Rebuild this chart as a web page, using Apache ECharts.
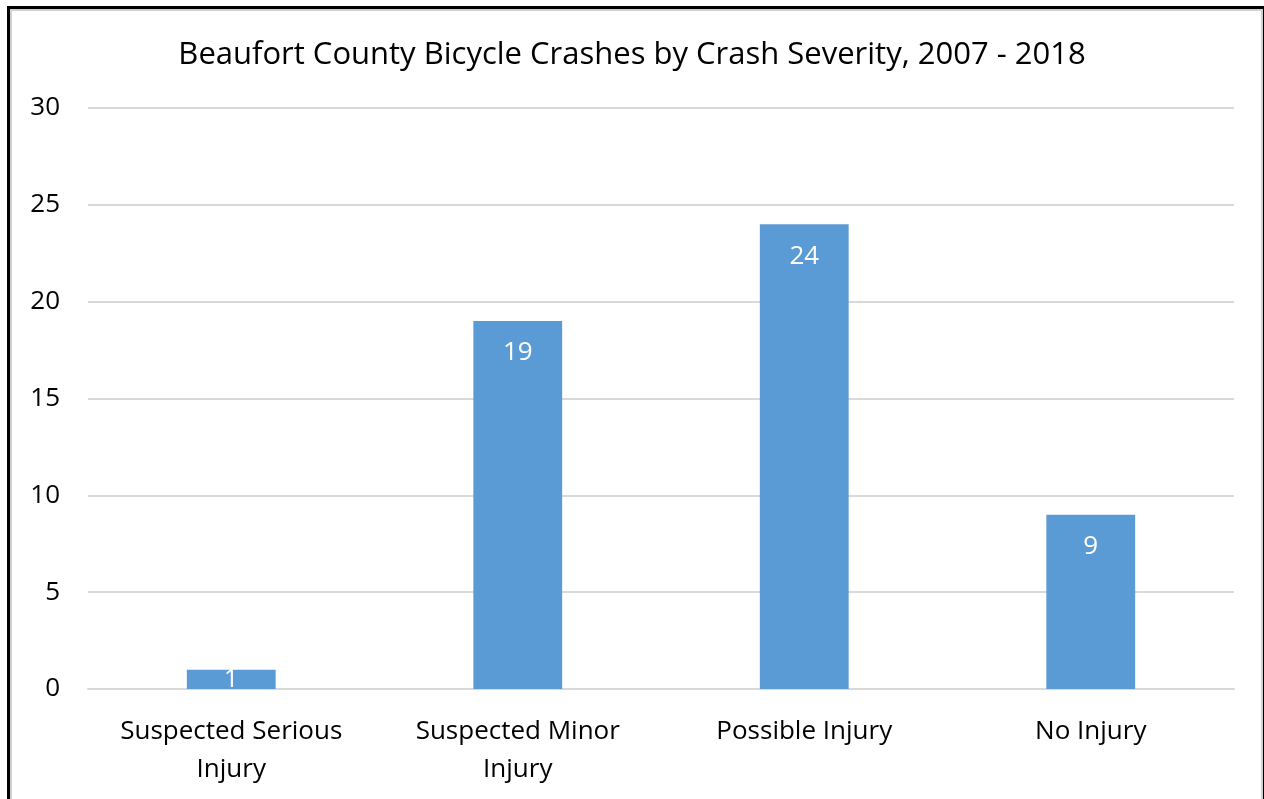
<!DOCTYPE html>
<html>
<head>
<meta charset="utf-8">
<title>Beaufort County Bicycle Crashes by Crash Severity</title>
<script src="https://cdn.jsdelivr.net/npm/echarts@6/dist/echarts.min.js"></script>
<style>
  html, body { margin: 0; padding: 0; background: #fff; }
  #frame {
    position: absolute; left: 7px; top: 6px; width: 1253px; height: 800px;
    border-left: 3px solid #000; border-top: 3px solid #000; border-right: 3px solid #000;
    box-shadow: inset 2px 2px 0 #d0d0d0, inset -2px 0 0 #d0d0d0;
  }
  #chart { position: absolute; left: 0; top: 0; width: 1264px; height: 799px; }
</style>
</head>
<body>
<div id="frame"></div>
<div id="chart"></div>
<script>
const titleText = 'Beaufort County Bicycle Crashes by Crash Severity, 2007 - 2018'
const categories = ['Suspected Serious\nInjury', 'Suspected Minor\nInjury', 'Possible Injury', 'No Injury']
const crashCounts = [1, 19, 24, 9]
const yTicks = { min: 0, max: 30, interval: 5 }

const fontFamily = '"Open Sans", "Noto Sans", sans-serif'
const textColor = '#000'

const chart = echarts.init(document.getElementById('chart'))

// 柱子太矮时标签放到柱子中间
const barData = crashCounts.map(v => (v < 3 ? { value: v, label: { position: 'inside' } } : v))

const option = {
  animation: false,
  title: {
    text: titleText,
    left: 'center',
    top: 35,
    textStyle: { fontFamily, fontSize: 31, fontWeight: 'normal', color: textColor }
  },
  grid: { left: 88, right: 30, top: 108, bottom: 110, containLabel: false },
  xAxis: {
    type: 'category',
    data: categories,
    axisLine: { lineStyle: { color: '#d9d9d9', width: 2 } },
    axisTick: { show: false },
    axisLabel: {
      fontFamily, fontSize: 26, color: textColor,
      lineHeight: 38, margin: 24, interval: 0
    }
  },
  yAxis: {
    type: 'value',
    min: yTicks.min,
    max: yTicks.max,
    interval: yTicks.interval,
    axisLine: { show: false },
    axisTick: { show: false },
    splitLine: { lineStyle: { color: '#d9d9d9', width: 2 } },
    axisLabel: { fontFamily, fontSize: 26, color: textColor, margin: 28 }
  },
  series: [
    {
      type: 'bar',
      data: barData,
      barWidth: '31%',
      itemStyle: { color: '#5b9bd5' },
      label: {
        show: true,
        position: 'insideTop',
        distance: 19,
        fontFamily, fontSize: 26, color: '#fff'
      }
    }
  ]
}

chart.setOption(option)
window.addEventListener('resize', () => chart.resize())
</script>
</body>
</html>
